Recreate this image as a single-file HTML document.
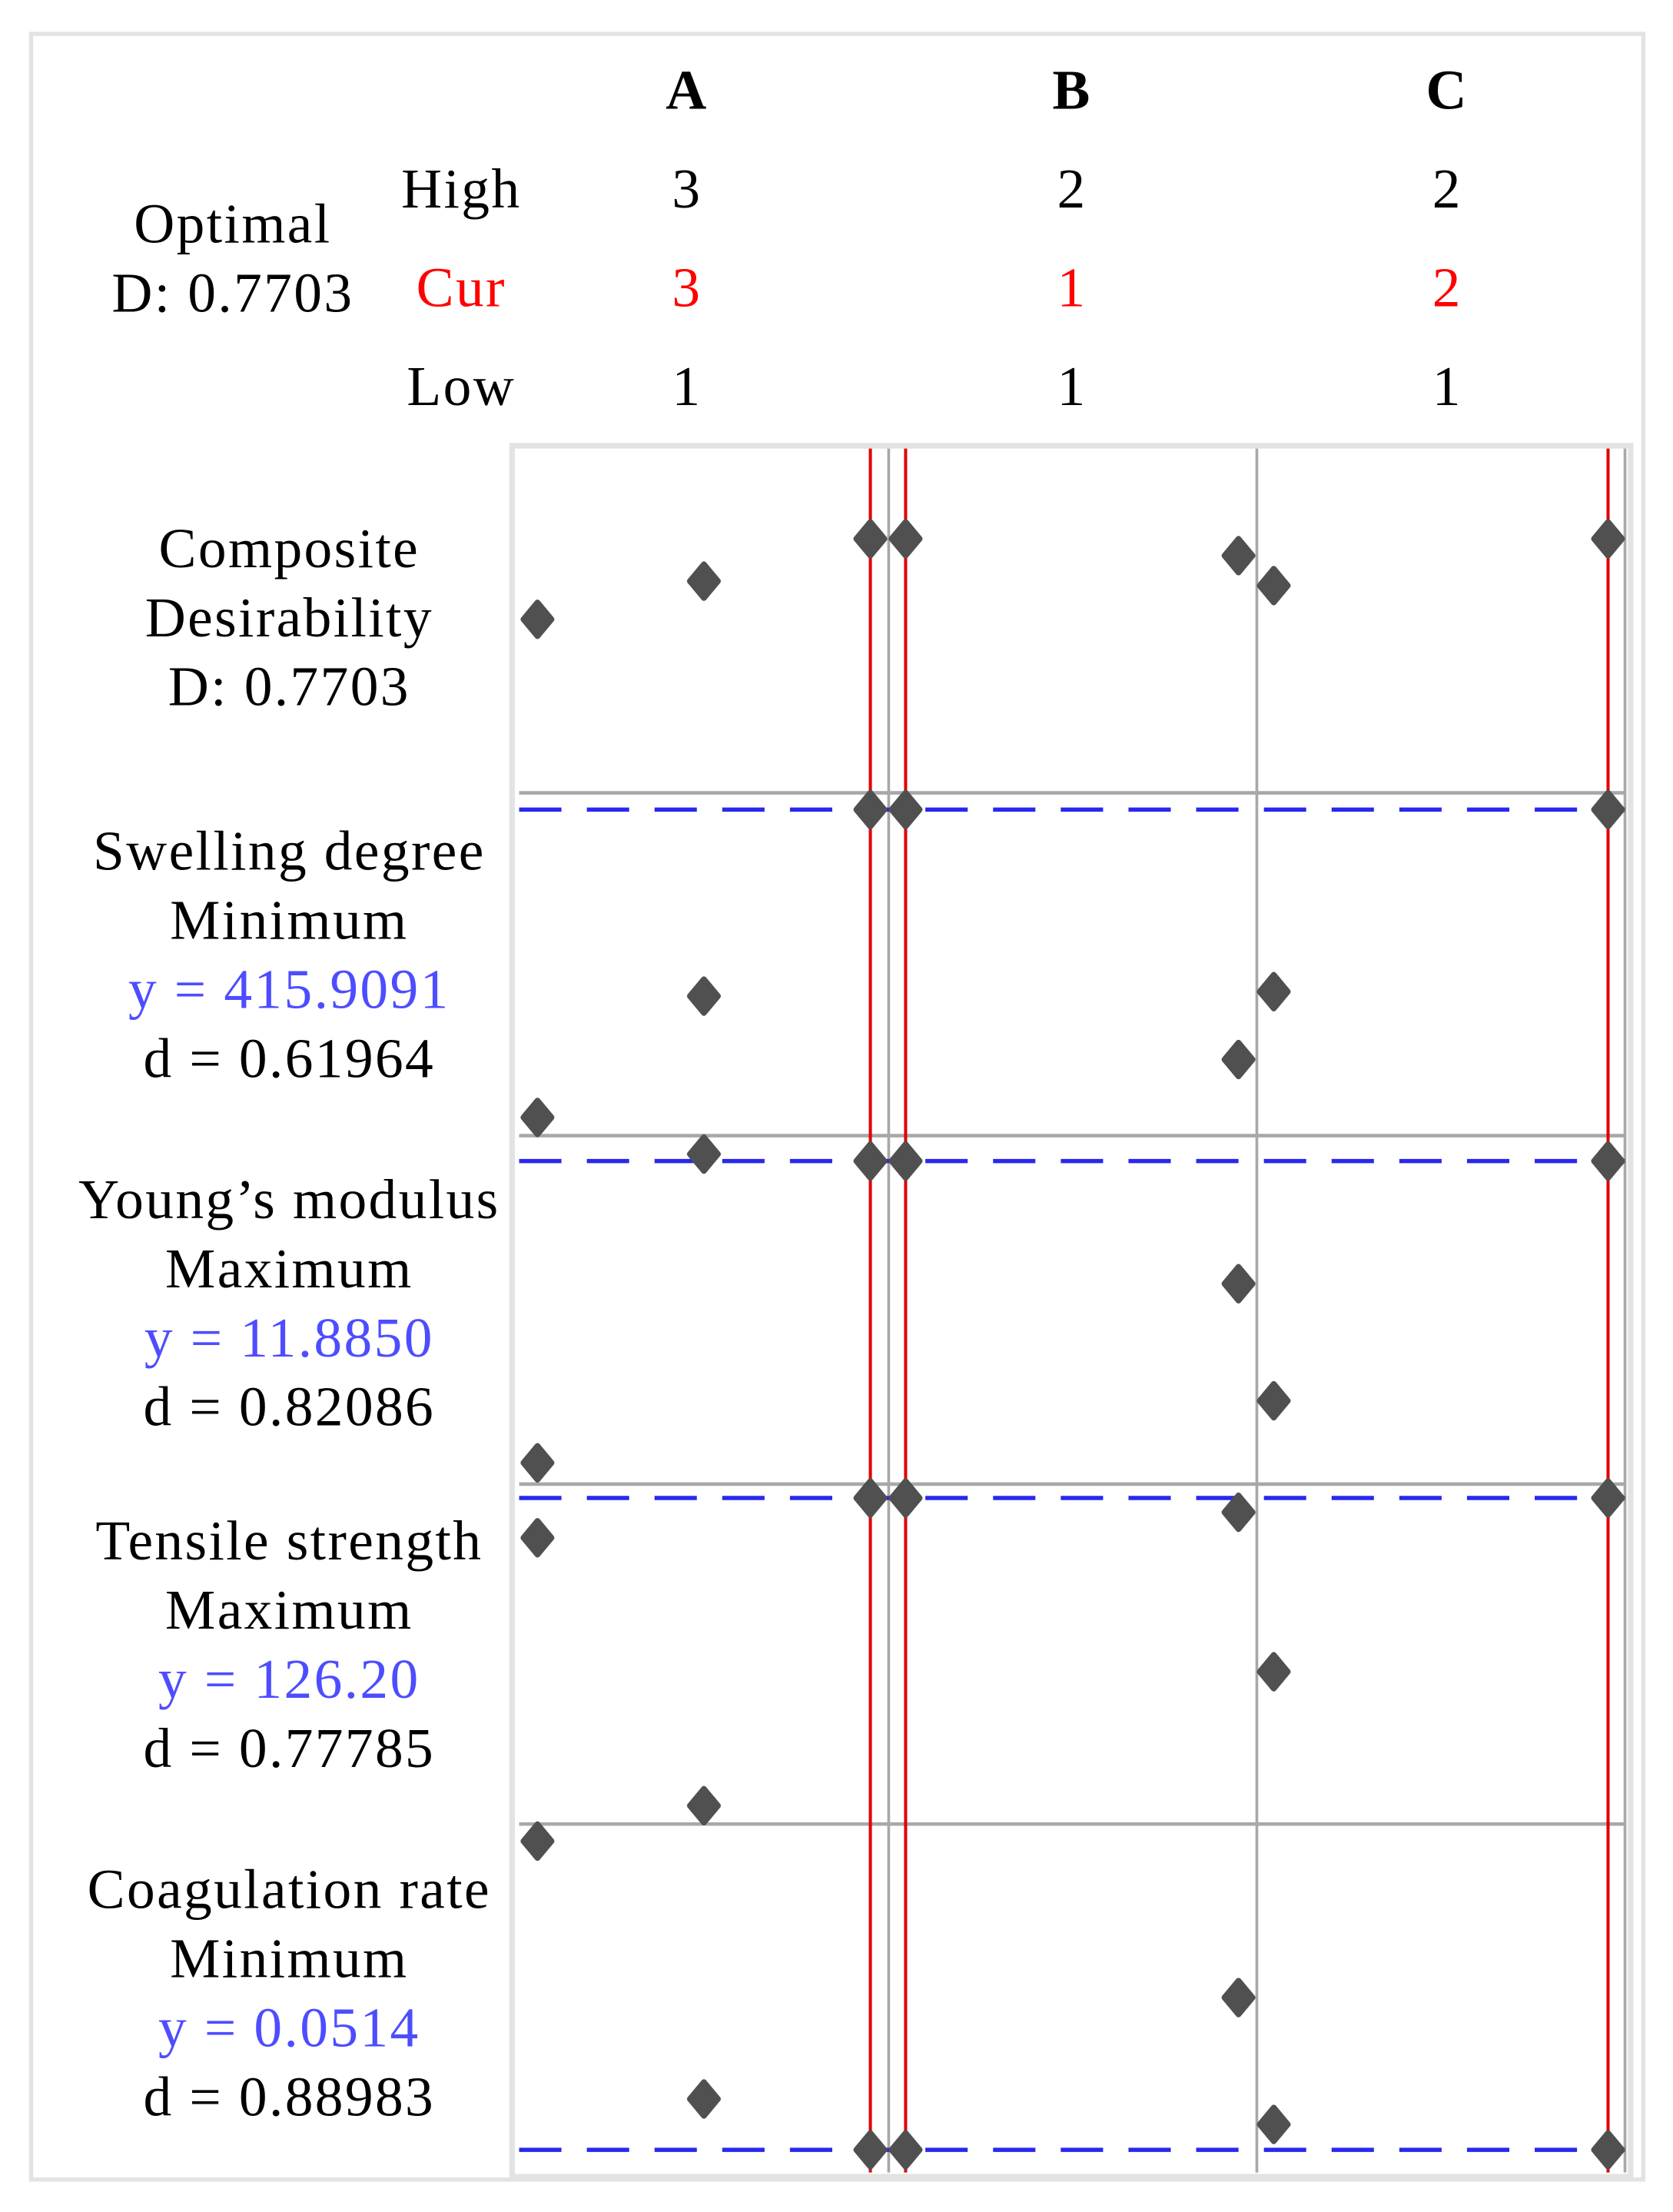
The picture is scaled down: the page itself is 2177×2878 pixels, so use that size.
<!DOCTYPE html>
<html><head><meta charset="utf-8"><style>
html,body{margin:0;padding:0;background:#fff}
svg{display:block}
text{font-family:"Liberation Serif",serif;letter-spacing:1.3px}
</style></head><body>
<svg id="chart" width="2177" height="2878" viewBox="0 0 1186 1568" xmlns="http://www.w3.org/2000/svg">
<rect x="22" y="24" width="1143" height="1521" fill="#fff" stroke="#e3e3e3" stroke-width="3"/>
<rect x="363" y="316" width="793" height="1227" fill="#fff" stroke="#e3e3e3" stroke-width="4"/>
<g id="header" font-size="40">
<text x="487" y="77" text-anchor="middle" font-weight="bold">A</text>
<text x="760" y="77" text-anchor="middle" font-weight="bold">B</text>
<text x="1026" y="77" text-anchor="middle" font-weight="bold">C</text>
<text x="165" y="172" text-anchor="middle">Optimal</text>
<text x="165" y="221" text-anchor="middle">D: 0.7703</text>
<text x="327" y="147" text-anchor="middle">High</text>
<text x="327" y="217" text-anchor="middle" fill="#ff0000">Cur</text>
<text x="327" y="287" text-anchor="middle">Low</text>
<text x="487" y="147" text-anchor="middle">3</text>
<text x="760" y="147" text-anchor="middle">2</text>
<text x="1026" y="147" text-anchor="middle">2</text>
<text x="487" y="217" text-anchor="middle" fill="#ff0000">3</text>
<text x="760" y="217" text-anchor="middle" fill="#ff0000">1</text>
<text x="1026" y="217" text-anchor="middle" fill="#ff0000">2</text>
<text x="487" y="287" text-anchor="middle">1</text>
<text x="760" y="287" text-anchor="middle">1</text>
<text x="1026" y="287" text-anchor="middle">1</text>
</g>
<g id="labels" font-size="40"></g>
<g id="grid"></g>
<g id="marks"></g>
</svg>
<script>
const factors = ["A","B","C"];
const levels = [1,2,3];
const factorLevels = [[1,2,3],[1,2],[1,2]];
const currentSetting = [3,1,2];
const responseNames = ["Composite Desirability","Swelling degree","Young’s modulus","Tensile strength","Coagulation rate"];
const labelLines = [
 [["Composite","k"],["Desirability","k"],["D: 0.7703","k"]],
 [["Swelling degree","k"],["Minimum","k"],["y = 415.9091","b"],["d = 0.61964","k"]],
 [["Young’s modulus","k"],["Maximum","k"],["y = 11.8850","b"],["d = 0.82086","k"]],
 [["Tensile strength","k"],["Maximum","k"],["y = 126.20","b"],["d = 0.77785","k"]],
 [["Coagulation rate","k"],["Minimum","k"],["y = 0.0514","b"],["d = 0.88983","k"]]
];
// values per panel (0-100 scale), per factor, per level
const valsA = [[50.4,61.5,73.8],[5.3,40.7,95.1],[6.1,94.7,92.7],[84.2,5.4,95.9],[95.1,21.1,6.5]];
const valsB = [[73.8,68.9],[95.1,22.2],[92.7,57.5],[95.9,91.7],[6.5,50.2]];
const valsC = [[60.2,73.8],[42.0,95.1],[23.9,92.7],[44.8,95.9],[13.8,6.5]];
const targets = [null,95.1,92.7,95.9,6.5];

const NS="http://www.w3.org/2000/svg";
const panelTops=[318,562,805,1052,1293,1540];
const ptL=[381,642,903], ptR=[617,878,1140];
function xScale(f,v){const n=factorLevels[f].length;return ptL[f]+(v-1)*(ptR[f]-ptL[f])/(n-1);}
function yScale(p,v){const t=panelTops[p],b=panelTops[p+1];return b-(v/100)*(b-t);}
function mk(tag,attrs,parent){const e=document.createElementNS(NS,tag);for(const k in attrs)e.setAttribute(k,attrs[k]);parent.appendChild(e);return e;}
const grid=document.getElementById('grid'),marks=document.getElementById('marks'),labels=document.getElementById('labels');
const centers=[438,677,924,1166,1413];
labelLines.forEach((ls,p)=>{
 const n=ls.length, start=centers[p]-(n-1)*24.5;
 ls.forEach((l,i)=>{
  const t=mk('text',{x:205,y:start+i*49+13,'text-anchor':'middle',fill:l[1]=='b'?'#4d4dff':'#000'},labels);
  
  
  t.textContent=l[0];
 });
});
for(let p=1;p<5;p++){const l=mk('line',{x1:368,x2:1152,y1:panelTops[p],y2:panelTops[p],stroke:'#a8a8a8','stroke-width':2.5},grid);
 
 }
[630,891,1152].forEach(x=>{const l=mk('line',{x1:x,x2:x,y1:318,y2:1540,stroke:'#a8a8a8','stroke-width':2},grid);
 
 });
currentSetting.forEach((v,f)=>{const x=xScale(f,v);const l=mk('line',{x1:x,x2:x,y1:318,y2:1540,stroke:'#e00000','stroke-width':2.2},grid);
 
 });
targets.forEach((v,p)=>{if(v==null)return;const y=yScale(p,v);const l=mk('line',{x1:368,x2:1152,y1:y,y2:y,stroke:'#2828ee','stroke-width':3,'stroke-dasharray':'30 18'},grid);
 
 });
const allVals=[valsA,valsB,valsC];
allVals.forEach((vals,f)=>{vals.forEach((row,p)=>{row.forEach((v,i)=>{
 const x=xScale(f,i+1),y=yScale(p,v);
 const d=mk('path',{d:`M${x} ${y-12}L${x+10} ${y}L${x} ${y+12}L${x-10} ${y}Z`,fill:'#505050',stroke:'#505050','stroke-width':4,'stroke-linejoin':'round'},marks);
 
 
});});});
</script>
</body></html>
